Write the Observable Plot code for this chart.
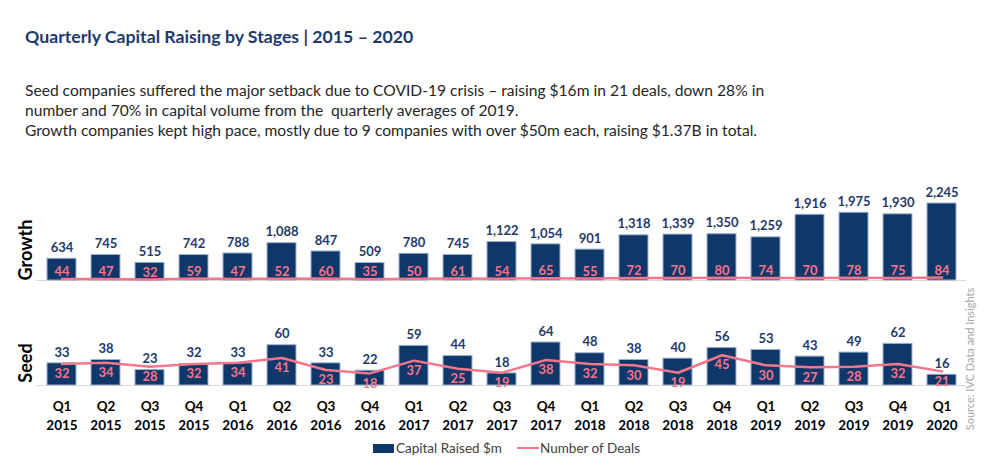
<!DOCTYPE html>
<html>
<head>
<meta charset="utf-8">
<script src="https://cdn.jsdelivr.net/npm/d3@7"></script>
<script src="https://cdn.jsdelivr.net/npm/@observablehq/plot@0.6"></script>
<style>
  body { margin: 0; background: #fff; }
  #root { position: relative; width: 1000px; height: 464px; font-family: Lato, "Open Sans", sans-serif; overflow: hidden; }
  .abs { position: absolute; }
  #title { left: 25px; top: 27px; line-height: 20px; font-size: 17.7px; font-weight: bold; color: #1c3a6e; white-space: nowrap; }
  #sub { left: 25px; top: 80px; line-height: 20px; font-size: 15.6px; color: #262626; white-space: nowrap; }
  .panel { left: 0; }
  .plabel { font-weight: bold; font-size: 18px; color: #000; transform: rotate(-90deg); transform-origin: center; white-space: nowrap; line-height: 20px; width: 80px; text-align: center; }
  #source { font-size: 11px; color: #a6a6a6; transform: rotate(-90deg); white-space: nowrap; width: 160px; text-align: center; line-height: 14px; }
  #legend { left: 0; top: 439px; width: 1000px; font-size: 13.5px; color: #404040; }
  .li { position: absolute; top: 0; line-height: 18px; white-space: nowrap; }
</style>
</head>
<body>
<div id="root">
  <div id="title" class="abs">Quarterly Capital Raising by Stages | 2015 – 2020</div>
  <div id="sub" class="abs">Seed companies suffered the major setback due to COVID-19 crisis – raising $16m in 21 deals, down 28% in<br>number and 70% in capital volume from the&nbsp; quarterly averages of 2019.<br>Growth companies kept high pace, mostly due to 9 companies with over $50m each, raising $1.37B in total.</div>
  <div id="growth" class="abs panel" style="top:180px"></div>
  <div id="seed" class="abs panel" style="top:320px"></div>
  <div class="abs plabel" style="left:-15px; top:240px">Growth</div>
  <div class="abs plabel" style="left:-15px; top:353px">Seed</div>
  <div id="source" class="abs" style="left:890px; top:352px">Source: IVC Data and Insights</div>
  <div id="legend" class="abs">
    <div class="li" style="left:373px"><span style="display:inline-block;width:21px;height:9px;background:#0f3769;vertical-align:0px;margin-right:2px"></span>Capital Raised $m</div>
    <div class="li" style="left:517px"><span style="display:inline-block;width:22px;height:2.5px;background:#f4768a;vertical-align:4px;margin-right:1px"></span>Number of Deals</div>
  </div>
</div>
<script>
const quarters = ["Q1","Q2","Q3","Q4","Q1","Q2","Q3","Q4","Q1","Q2","Q3","Q4","Q1","Q2","Q3","Q4","Q1","Q2","Q3","Q4","Q1"];
const years = ["2015","2015","2015","2015","2016","2016","2016","2016","2017","2017","2017","2017","2018","2018","2018","2018","2019","2019","2019","2019","2020"];
const growthCapital = [634,745,515,742,788,1088,847,509,780,745,1122,1054,901,1318,1339,1350,1259,1916,1975,1930,2245];
const growthDeals = [44,47,32,59,47,52,60,35,50,61,54,65,55,72,70,80,74,70,78,75,84];
const seedCapital = [33,38,23,32,33,60,33,22,59,44,18,64,48,38,40,56,53,43,49,62,16];
const seedDeals = [32,34,28,32,34,41,23,18,37,25,19,38,32,30,19,45,30,27,28,32,21];

const labels = quarters.map((q, i) => `${q}\n${years[i]}`);
const growth = labels.map((label, i) => ({label, capital: growthCapital[i], deals: growthDeals[i]}));
const seed = labels.map((label, i) => ({label, capital: seedCapital[i], deals: seedDeals[i]}));

const NAVY = "#0f3769", PINK = "#f4768a", LABEL = "#1f3a68";
const fmt = d3.format(",");

function panel(data, {marginTop, marginBottom, height, dealsDy, axis}) {
  return Plot.plot({
    width: 1000,
    height,
    marginLeft: 36,
    marginRight: 34,
    marginTop,
    marginBottom,
    style: {fontFamily: "Lato, 'Open Sans', sans-serif", overflow: "visible"},
    x: {domain: labels, paddingInner: 0.345, paddingOuter: 0.1725, axis: null},
    y: {domain: [0, d3.max(data, d => d.capital)], axis: null},
    marks: [
      Plot.ruleY([0], {stroke: "#d9d9d9", strokeWidth: 1}),
      Plot.barY(data, {x: "label", y: "capital", fill: NAVY, stroke: "#9fb3cc", strokeWidth: 1}),
      Plot.text(data, {x: "label", y: "capital", text: d => fmt(d.capital), dy: -11, fill: LABEL, fontWeight: "bold", fontSize: 13}),
      Plot.lineY(data, {x: "label", y: "deals", stroke: PINK, strokeWidth: 2.5}),
      Plot.text(data, {x: "label", y: "deals", text: "deals", dy: dealsDy, fill: PINK, fontWeight: "bold", fontSize: 13}),
      ...(axis ? [Plot.axisX({tickSize: 0, tickPadding: 13, fontWeight: "bold", fontSize: 13.5, fill: "#000", lineHeight: 1.35, label: null})] : [])
    ]
  });
}

document.getElementById("growth").append(panel(growth, {marginTop: 23, marginBottom: 2, height: 102, dealsDy: -7, axis: false}));
document.getElementById("seed").append(panel(seed, {marginTop: 22, marginBottom: 50, height: 115, dealsDy: 10, axis: true}));
</script>
</body>
</html>
